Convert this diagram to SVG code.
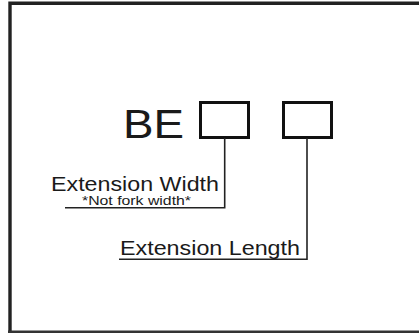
<svg xmlns="http://www.w3.org/2000/svg" width="419" height="333" viewBox="0 0 419 333">
<style>
.t{font-family:"Liberation Sans",Arial,sans-serif;fill:#1a1a1a}
.box{fill:none;stroke:#111;stroke-width:3}
.ln{fill:none;stroke:#222;stroke-width:1.6}
</style>
<rect x="0" y="0" width="419" height="333" fill="#fff"/>
<g id="frame"><path d="M10,332 V3.3 H425" fill="none" stroke="#222" stroke-width="3.4"/><path d="M8,332 H425" fill="none" stroke="#333" stroke-width="3"/></g>
<g id="prefix"><text class="t" x="123" y="137.5" font-size="40" textLength="61" lengthAdjust="spacingAndGlyphs">BE</text></g>
<g id="box-width"><rect class="box" x="200.5" y="102.5" width="48" height="35"/></g>
<g id="box-length"><rect class="box" x="283.5" y="102.5" width="48" height="35"/></g>
<g id="connectors">
<path class="ln" d="M224.7,138 V207.7 H65"/>
<path class="ln" d="M307,138 V259.3 H119"/>
</g>
<g id="label-width">
<text class="t" x="51" y="191" font-size="20" textLength="168" lengthAdjust="spacingAndGlyphs">Extension Width</text>
<text class="t" x="82" y="205" font-size="12.5" textLength="109" lengthAdjust="spacingAndGlyphs">*Not fork width*</text>
</g>
<g id="label-length"><text class="t" x="120" y="255" font-size="20" textLength="180" lengthAdjust="spacingAndGlyphs">Extension Length</text></g>
</svg>
